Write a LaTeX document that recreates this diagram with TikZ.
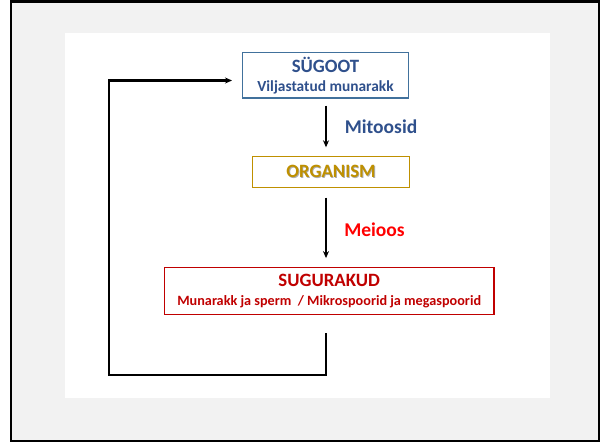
\documentclass[tikz,border=0pt]{standalone}
\usepackage{fontspec}
\setmainfont{Carlito}[BoldFont={Carlito Bold}]
\usepackage{tikz}
\usetikzlibrary{arrows.meta}
\definecolor{framegray}{RGB}{242,242,242}
\definecolor{zyblue}{RGB}{65,113,156}
\definecolor{zytext}{RGB}{47,80,140}
\definecolor{orggold}{RGB}{191,144,0}
\definecolor{gamred}{RGB}{192,0,0}
\definecolor{meired}{RGB}{255,0,0}
\definecolor{shadowgray}{RGB}{120,120,120}
\newcommand{\shadowed}[1]{\makebox[0pt][l]{\hspace{0.9pt}\raisebox{-0.9pt}{\color{shadowgray!60}#1}}#1}
\newcommand{\titlefont}{\fontsize{18.8}{20}\bfseries\selectfont}
\newcommand{\subfont}{\fontsize{15.4}{19}\bfseries\selectfont}
\newcommand{\gamfont}{\fontsize{14.2}{19}\bfseries\selectfont}
\newcommand{\stepfont}{\fontsize{19.5}{21}\bfseries\selectfont}

\begin{document}
\begin{tikzpicture}[x=1pt,y=-1pt,
    stage/.style={draw, line width=1.4pt, rectangle, align=center, inner sep=0pt, font=\subfont},
    flow/.style={line width=1.6pt, -{Stealth[length=7pt,width=6pt]}},
    backflow/.style={line width=2.4pt, -{Stealth[length=7pt,width=6pt]}}]
\useasboundingbox (0,0) rectangle (601,442);
% slide background
\draw[line width=2.2pt, fill=framegray] (11,1.5) rectangle (599,441);
\fill[white] (65,33) rectangle (550,397.5);

% stages
\node[stage, draw=zyblue, text=zytext, minimum width=165.6pt, minimum height=45.3pt] (zygote) at (325.5,75.3)
    {{\titlefont SÜGOOT}\\Viljastatud munarakk};
\node[stage, draw=orggold, text=orggold, minimum width=157pt, minimum height=31pt] (organism) at (331,172)
    {\titlefont\shadowed{ORGANISM}};
\node[stage, draw=gamred, text=gamred, minimum width=329.7pt, minimum height=47.4pt, font=\gamfont] (gametes) at (329.2,291)
    {{\titlefont SUGURAKUD}\\Munarakk ja sperm\ \ / Mikrospoorid ja megaspoorid};

\coordinate (axis) at (326,0);
\coordinate (ret) at (109,375);
\coordinate (top) at (109,80.5);

% division steps
\draw[flow, shorten <=7pt, shorten >=8.5pt] (zygote.south -| axis) -- (organism.north -| axis);
\draw[flow, shorten <=9.5pt, shorten >=8.5pt] (organism.south -| axis) -- (gametes.north -| axis);
\node[font=\stepfont, text=zytext] (mitosis) at (381,127) {Mitoosid};
\node[font=\stepfont, text=meired] (meiosis) at (374.5,230) {Meioos};

% back to the zygote
\draw[backflow, shorten >=10pt] (gametes.south -| axis) ++(0,18) |- (ret) -- (top) -- (top -| zygote.west);
\end{tikzpicture}
\end{document}
